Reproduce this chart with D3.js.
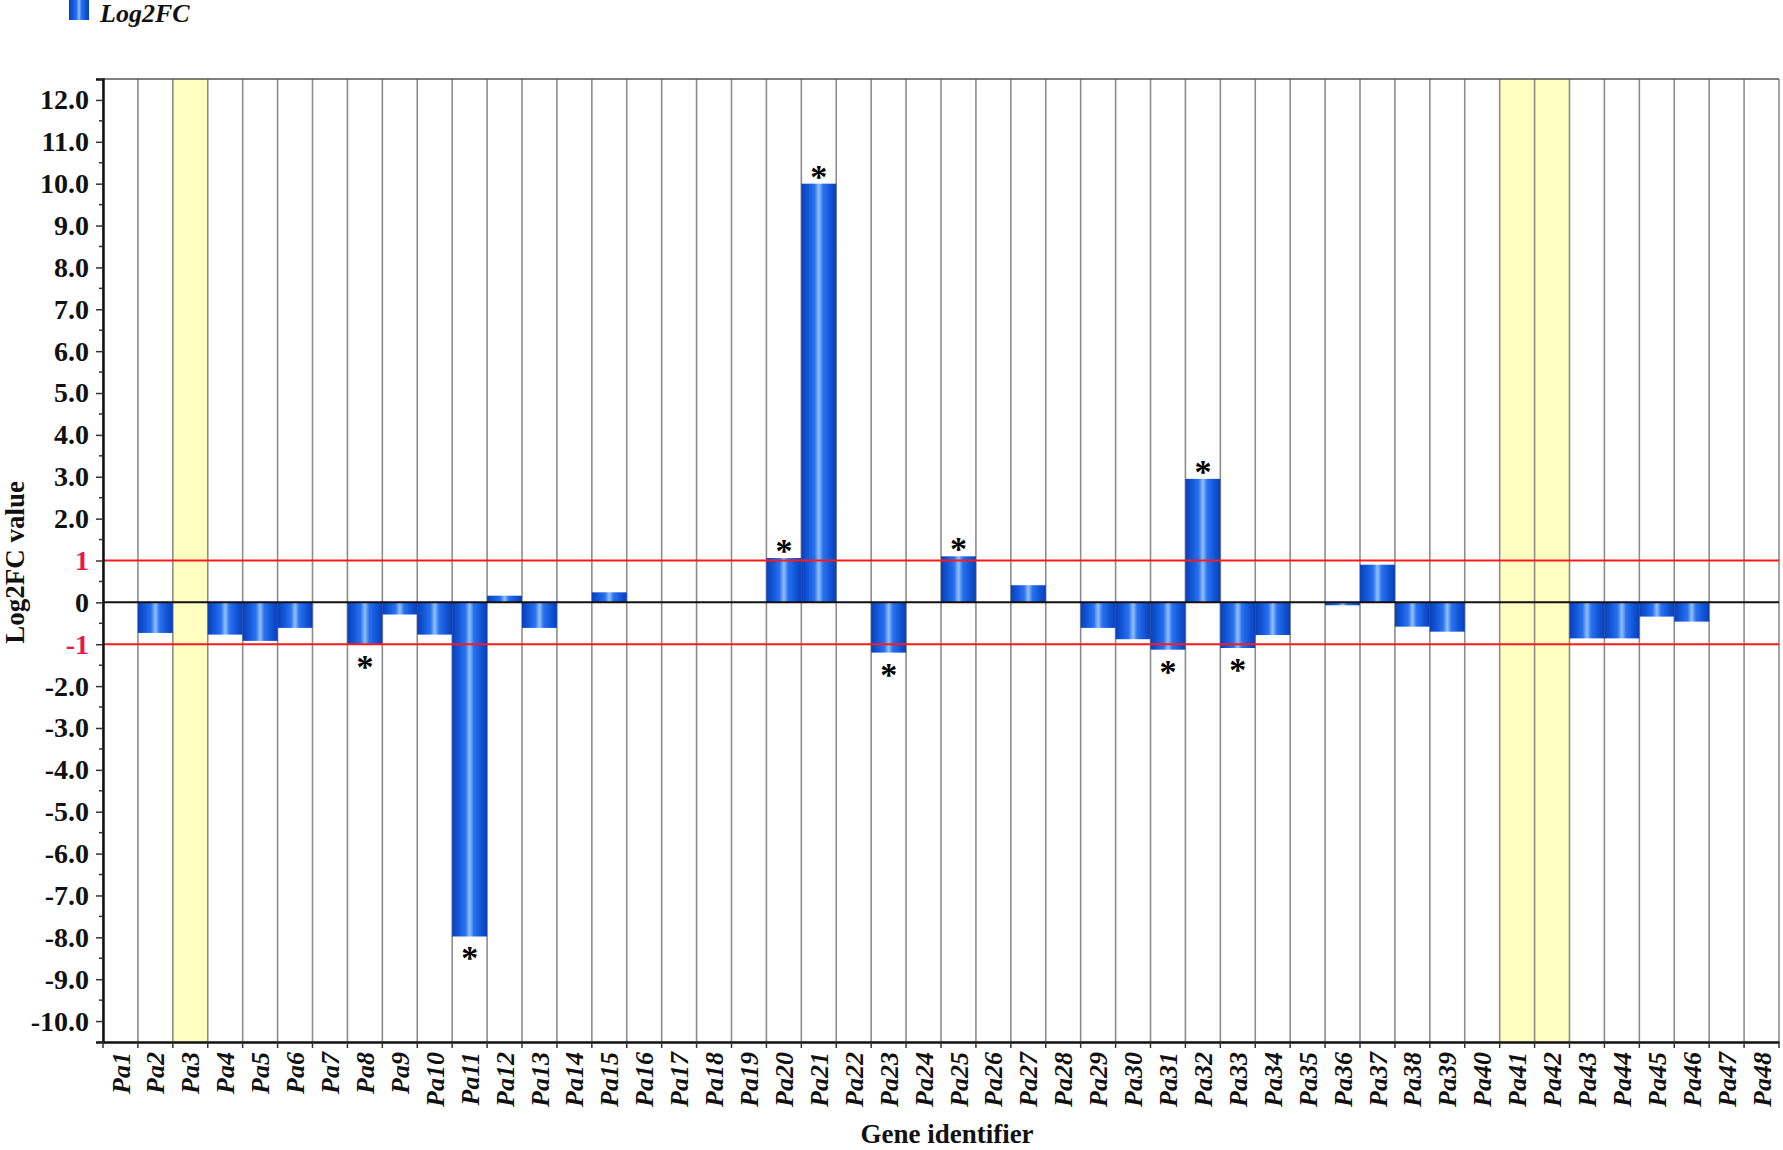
<!DOCTYPE html>
<html>
<head>
<meta charset="utf-8">
<script src="https://cdn.jsdelivr.net/npm/d3@7"></script>
<style>
  body { margin: 0; background: #fff; }
  svg { display: block; }
</style>
</head>
<body>
<script>
// data
const genes = ["Pa1","Pa2","Pa3","Pa4","Pa5","Pa6","Pa7","Pa8","Pa9","Pa10","Pa11","Pa12",
  "Pa13","Pa14","Pa15","Pa16","Pa17","Pa18","Pa19","Pa20","Pa21","Pa22","Pa23","Pa24",
  "Pa25","Pa26","Pa27","Pa28","Pa29","Pa30","Pa31","Pa32","Pa33","Pa34","Pa35","Pa36",
  "Pa37","Pa38","Pa39","Pa40","Pa41","Pa42","Pa43","Pa44","Pa45","Pa46","Pa47","Pa48"];
const log2fc = [0, -0.73, 0, -0.77, -0.92, -0.61, 0, -1.01, -0.29, -0.77, -7.98, 0.16,
  -0.61, 0, 0.24, 0, 0, 0, 0, 1.06, 10.0, 0, -1.20, 0,
  1.10, 0, 0.41, 0, -0.61, -0.88, -1.13, 2.95, -1.09, -0.78, 0, -0.07,
  0.90, -0.58, -0.70, 0, 0, 0, -0.86, -0.86, -0.34, -0.46, 0, 0];
const significant = ["Pa8","Pa11","Pa20","Pa21","Pa23","Pa25","Pa31","Pa32","Pa33"];
const highlighted = ["Pa3","Pa41","Pa42"];
const thresholds = [1, -1];
const yTickValues = [12, 11, 10, 9, 8, 7, 6, 5, 4, 3, 2, 1, 0, -1, -2, -3, -4, -5, -6, -7, -8, -9, -10];
const yTickLabels = ["12.0","11.0","10.0","9.0","8.0","7.0","6.0","5.0","4.0","3.0","2.0","1","0","-1",
  "-2.0","-3.0","-4.0","-5.0","-6.0","-7.0","-8.0","-9.0","-10.0"];

const W = 1783, H = 1150;
const margin = { top: 79, right: 4, bottom: 108, left: 103 };
const serif = "'Liberation Serif', 'Times New Roman', serif";

const svg = d3.select("body").append("svg").attr("width", W).attr("height", H);

const x = d3.scaleBand().domain(genes).range([margin.left, W - margin.right]).padding(0);
const y = d3.scaleLinear().domain([-10.5, 12.5]).range([H - margin.bottom, margin.top]);
const bw = x.bandwidth();

// bar gradient (dark edges, light centre)
const grad = svg.append("defs").append("linearGradient")
  .attr("id", "barGrad").attr("x1", "0%").attr("x2", "100%").attr("y1", "0%").attr("y2", "0%");
[[0, "#0a3fb8"], [0.18, "#1256d8"], [0.38, "#2a72f0"], [0.5, "#94c0ff"], [0.62, "#2a72f0"], [0.82, "#1256d8"], [1, "#0a3fb8"]]
  .forEach(([o, c]) => grad.append("stop").attr("offset", o).attr("stop-color", c));

// yellow columns
svg.append("g").selectAll("rect")
  .data(highlighted)
  .enter().append("rect")
  .attr("x", d => x(d)).attr("y", margin.top)
  .attr("width", bw).attr("height", H - margin.bottom - margin.top)
  .attr("fill", "#ffffc2");

// vertical grid lines at column boundaries
const bounds = genes.map(g => x(g)).concat([x(genes[genes.length - 1]) + bw]);
svg.append("g").selectAll("line")
  .data(bounds)
  .enter().append("line")
  .attr("x1", d => d).attr("x2", d => d)
  .attr("y1", margin.top).attr("y2", H - margin.bottom)
  .attr("stroke", "#8c8c8c").attr("stroke-width", 1.6);

// top frame line
svg.append("line")
  .attr("x1", margin.left).attr("x2", W - margin.right)
  .attr("y1", margin.top).attr("y2", margin.top)
  .attr("stroke", "#555").attr("stroke-width", 1.5);

// bars
svg.append("g").selectAll("rect")
  .data(genes.map((g, i) => ({ gene: g, v: log2fc[i] })).filter(d => d.v !== 0))
  .enter().append("rect")
  .attr("x", d => x(d.gene))
  .attr("y", d => y(Math.max(0, d.v)))
  .attr("width", bw)
  .attr("height", d => Math.abs(y(d.v) - y(0)))
  .attr("fill", "url(#barGrad)");

// zero line
svg.append("line")
  .attr("x1", margin.left).attr("x2", W - margin.right)
  .attr("y1", y(0)).attr("y2", y(0))
  .attr("stroke", "#111").attr("stroke-width", 2);

// threshold lines
svg.append("g").selectAll("line")
  .data(thresholds)
  .enter().append("line")
  .attr("x1", margin.left).attr("x2", W - margin.right)
  .attr("y1", d => y(d)).attr("y2", d => y(d))
  .attr("stroke", "#ff1a1a").attr("stroke-width", 2);

// asterisks
svg.append("g").selectAll("text")
  .data(significant)
  .enter().append("text")
  .attr("x", d => x(d) + bw / 2)
  .attr("y", d => {
    const v = log2fc[genes.indexOf(d)];
    return v > 0 ? y(v) + 4 : y(v) + 33;
  })
  .attr("text-anchor", "middle")
  .attr("font-family", serif)
  .attr("font-weight", "bold")
  .attr("font-size", 34)
  .attr("fill", "#000")
  .text("*");

// y axis
const yAxis = d3.axisLeft(y)
  .tickValues(yTickValues)
  .tickSize(7)
  .tickPadding(7)
  .tickFormat((d, i) => yTickLabels[i]);
const gy = svg.append("g")
  .attr("transform", `translate(${margin.left},0)`)
  .call(yAxis);
gy.select(".domain").attr("stroke", "#111").attr("stroke-width", 2.5);
gy.selectAll(".tick line").attr("stroke", "#333").attr("stroke-width", 1.5);
gy.selectAll(".tick text")
  .attr("font-family", serif)
  .attr("font-weight", "bold")
  .attr("font-size", 28)
  .attr("fill", d => Math.abs(d) === 1 ? "#e8174c" : "#111");

// minor ticks
svg.append("g").selectAll("line")
  .data(d3.range(-10.5, 12.6, 1))
  .enter().append("line")
  .attr("x1", margin.left - 4).attr("x2", margin.left)
  .attr("y1", d => y(d)).attr("y2", d => y(d))
  .attr("stroke", "#333").attr("stroke-width", 1.5);

// x axis
const gx = svg.append("g")
  .attr("transform", `translate(0,${H - margin.bottom})`)
  .call(d3.axisBottom(x).tickSize(0).tickPadding(0));
gx.select(".domain").attr("stroke", "#111").attr("stroke-width", 2.5);
gx.selectAll(".tick text")
  .attr("font-family", serif)
  .attr("font-weight", "bold")
  .attr("font-style", "italic")
  .attr("font-size", 26)
  .attr("fill", "#111")
  .attr("text-anchor", "end")
  .attr("transform", "rotate(-90)")
  .attr("x", -10)
  .attr("y", 0)
  .attr("dy", "0.35em");

// boundary ticks below the x axis
svg.append("g").selectAll("line")
  .data(bounds)
  .enter().append("line")
  .attr("x1", d => d).attr("x2", d => d)
  .attr("y1", H - margin.bottom).attr("y2", H - margin.bottom + 6)
  .attr("stroke", "#333").attr("stroke-width", 1.5);

// axis titles
svg.append("text")
  .attr("x", (margin.left + W - margin.right) / 2 + 6)
  .attr("y", 1143)
  .attr("text-anchor", "middle")
  .attr("font-family", serif)
  .attr("font-weight", "bold")
  .attr("font-size", 27)
  .attr("fill", "#111")
  .text("Gene identifier");

svg.append("text")
  .attr("transform", `translate(24,${y(0) - 40}) rotate(-90)`)
  .attr("text-anchor", "middle")
  .attr("font-family", serif)
  .attr("font-weight", "bold")
  .attr("font-size", 27)
  .attr("fill", "#111")
  .text("Log2FC value");

// legend
const legend = svg.append("g").attr("transform", "translate(69,3)");
legend.append("rect")
  .attr("x", 0).attr("y", -3).attr("width", 20).attr("height", 20)
  .attr("fill", "url(#barGrad)");
legend.append("text")
  .attr("x", 31).attr("y", 19)
  .attr("font-family", serif)
  .attr("font-weight", "bold")
  .attr("font-style", "italic")
  .attr("font-size", 26)
  .attr("fill", "#111")
  .text("Log2FC");
</script>
</body>
</html>
